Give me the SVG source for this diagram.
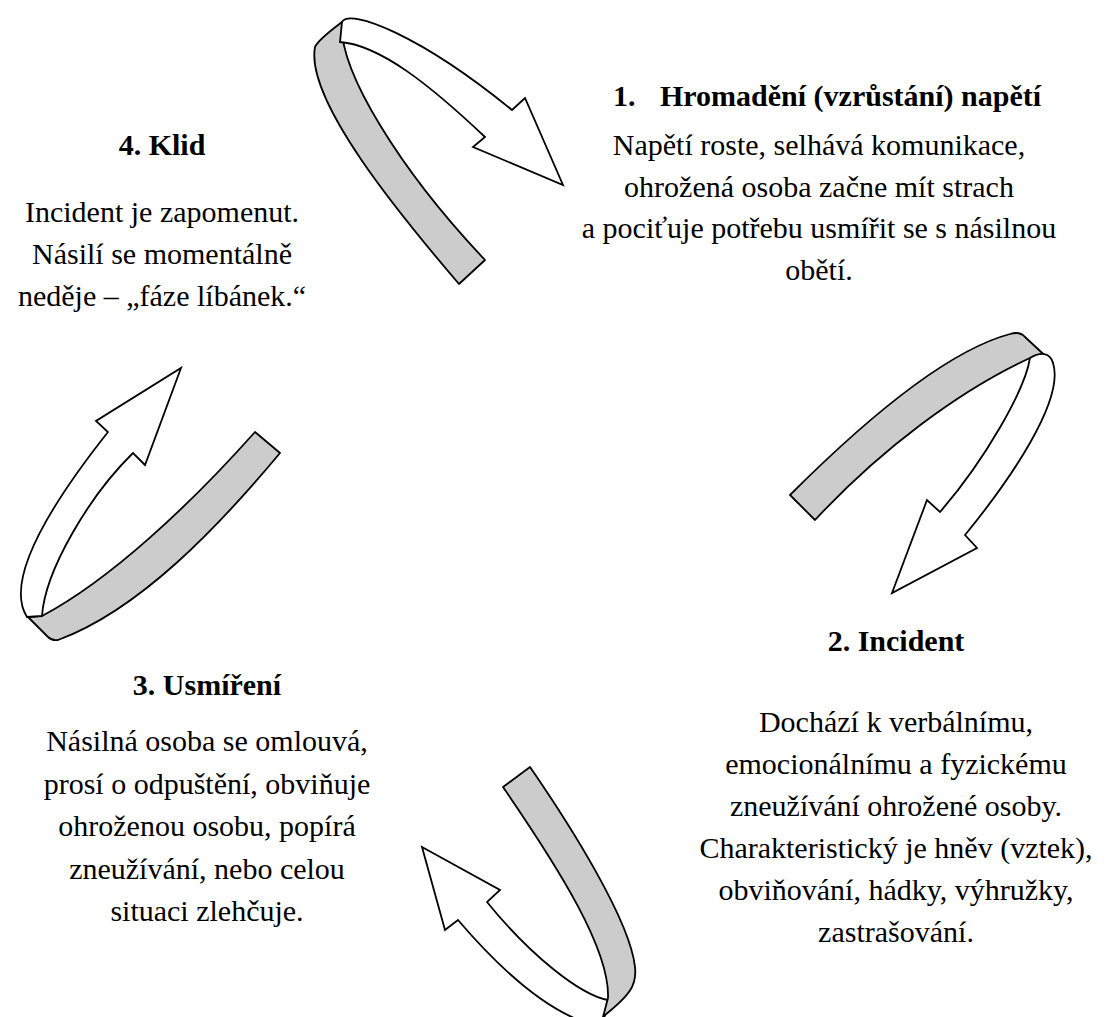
<svg xmlns="http://www.w3.org/2000/svg" width="1109" height="1017" viewBox="0 0 1109 1017">
<style>
.t{font-family:"Liberation Serif","Times New Roman",serif;font-size:30px;fill:#000;text-anchor:middle}
.b{font-weight:bold}
.band{fill:#cccccc;stroke:#000;stroke-width:1.8;stroke-linejoin:round}
.front{fill:#fff;stroke:#000;stroke-width:1.8;stroke-linejoin:miter}
</style>
<rect width="1109" height="1017" fill="#fff"/>
<g id="connectors">
  <g id="arrow1">
    <path class="band" d="M342,22 C338,70 400,170 485,260 L459,284 C400,215 305,100 315,47 Q318,40 342,22 Z"/>
    <path class="front" d="M342,22 C350,8 420,35 512,110 L525,98 L563,185 L473,147 L485,137 C430,85 380,45 340,42 Z"/>
  </g>
  <g id="arrow2">
    <path class="band" d="M815,520 L790,495 C870,415 950,350 1010,334 Q1020,331 1025,337 L1053,363 L1030,358 C960,390 880,450 815,520 Z"/>
    <path class="front" d="M1030,358 C1025,390 985,460 940,512 L927,500 L892,593 L977,548 L965,535 C1010,480 1065,400 1053,363 C1050,352 1040,352 1030,358 Z"/>
  </g>
  <g id="arrow3">
    <path class="front" d="M608,1000 C580,995 530,955 487,902 L500,890 L422,847 L445,930 L458,920 C505,975 550,1012 590,1024 L603,1024 Z"/>
    <path class="band" d="M503,787 L530,767 C570,825 630,920 635,967 C637,985 630,995 605,1015 L596,1024 L602,1024 L603,1017 L608,998 C610,950 560,870 503,787 Z"/>
  </g>
  <g id="arrow4">
    <path class="band" d="M255,432 L280,453 C220,525 140,610 58,640 Q52,641 48,637 L28,617 L42,616 C110,580 190,505 255,432 Z"/>
    <path class="front" d="M42,616 C45,570 90,495 133,453 L145,465 L181,368 L96,421 L108,432 C70,480 0,575 27,617 Z"/>
  </g>
</g>
<g id="node1" font-family="Liberation Serif, serif">
  <text class="t b" x="613" y="106" style="text-anchor:start">1.</text>
  <text class="t b" x="660" y="106" style="text-anchor:start">Hromadění (vzrůstání) napětí</text>
  <text class="t" x="819" y="155">Napětí roste, selhává komunikace,</text>
  <text class="t" x="819" y="197">ohrožená osoba začne mít strach</text>
  <text class="t" x="819" y="238">a pociťuje potřebu usmířit se s násilnou</text>
  <text class="t" x="819" y="280">obětí.</text>
</g>
<g id="node2" font-family="Liberation Serif, serif">
  <text class="t b" x="896" y="651">2. Incident</text>
  <text class="t" x="896" y="732">Dochází k verbálnímu,</text>
  <text class="t" x="896" y="774">emocionálnímu a fyzickému</text>
  <text class="t" x="896" y="816">zneužívání ohrožené osoby.</text>
  <text class="t" x="896" y="858">Charakteristický je hněv (vztek),</text>
  <text class="t" x="896" y="900">obviňování, hádky, výhružky,</text>
  <text class="t" x="896" y="942">zastrašování.</text>
</g>
<g id="node3" font-family="Liberation Serif, serif">
  <text class="t b" x="207" y="695">3. Usmíření</text>
  <text class="t" x="207" y="751">Násilná osoba se omlouvá,</text>
  <text class="t" x="207" y="794">prosí o odpuštění, obviňuje</text>
  <text class="t" x="207" y="836">ohroženou osobu, popírá</text>
  <text class="t" x="207" y="879">zneužívání, nebo celou</text>
  <text class="t" x="207" y="921">situaci zlehčuje.</text>
</g>
<g id="node4" font-family="Liberation Serif, serif">
  <text class="t b" x="162" y="155">4. Klid</text>
  <text class="t" x="162" y="222">Incident je zapomenut.</text>
  <text class="t" x="162" y="264">Násilí se momentálně</text>
  <text class="t" x="162" y="306">neděje – „fáze líbánek.“</text>
</g>
</svg>
